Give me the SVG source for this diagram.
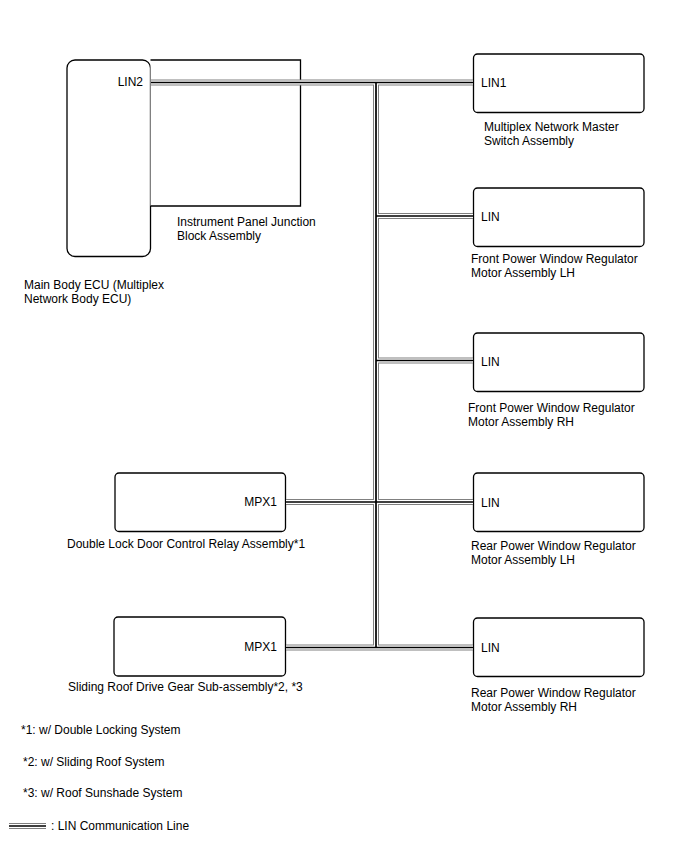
<svg xmlns="http://www.w3.org/2000/svg" width="688" height="852" viewBox="0 0 688 852">
<style>
.box{fill:#fff;stroke:#000;stroke-width:1.3}
.t{font-family:"Liberation Sans",Arial,sans-serif;font-size:12px;fill:#000}
.g{fill:none;stroke:#808080;stroke-width:6}
.w{fill:none;stroke:#fff;stroke-width:4}
.k{fill:none;stroke:#000;stroke-width:1.7}
</style>
<rect width="688" height="852" fill="#fff"/>
<g id="main-body-ecu">
<rect class="box" x="67" y="60" width="83.5" height="196.5" rx="8"/>
<text class="t" x="143" y="86" text-anchor="end">LIN2</text>
<text class="t" x="24" y="289">Main Body ECU (Multiplex</text>
<text class="t" x="24" y="303">Network Body ECU)</text>
</g>
<g id="instrument-panel-jb">
<path class="box" d="M150.5 60 H300.5 V206 H150.5" fill="none"/>
<text class="t" x="177" y="226">Instrument Panel Junction</text>
<text class="t" x="177" y="240">Block Assembly</text>
</g>
<g id="master-switch">
<rect class="box" x="473.5" y="54" width="170.5" height="58.5" rx="4"/>
<text class="t" x="481" y="87">LIN1</text>
<text class="t" x="484" y="131">Multiplex Network Master</text>
<text class="t" x="484" y="145">Switch Assembly</text>
</g>
<g id="front-lh">
<rect class="box" x="473.5" y="188" width="170.5" height="58.5" rx="4"/>
<text class="t" x="481" y="221">LIN</text>
<text class="t" x="471" y="263">Front Power Window Regulator</text>
<text class="t" x="471" y="277">Motor Assembly LH</text>
</g>
<g id="front-rh">
<rect class="box" x="473.5" y="333" width="170.5" height="58.5" rx="4"/>
<text class="t" x="481" y="366">LIN</text>
<text class="t" x="468" y="412">Front Power Window Regulator</text>
<text class="t" x="468" y="426">Motor Assembly RH</text>
</g>
<g id="rear-lh">
<rect class="box" x="473.5" y="473" width="170.5" height="58.5" rx="4"/>
<text class="t" x="481" y="507">LIN</text>
<text class="t" x="471" y="550">Rear Power Window Regulator</text>
<text class="t" x="471" y="564">Motor Assembly LH</text>
</g>
<g id="rear-rh">
<rect class="box" x="473.5" y="618" width="170.5" height="58.5" rx="4"/>
<text class="t" x="481" y="652">LIN</text>
<text class="t" x="471" y="697">Rear Power Window Regulator</text>
<text class="t" x="471" y="711">Motor Assembly RH</text>
</g>
<g id="double-lock-relay">
<rect class="box" x="115" y="473" width="170.5" height="58.5" rx="4"/>
<text class="t" x="277" y="506" text-anchor="end">MPX1</text>
<text class="t" x="67" y="548">Double Lock Door Control Relay Assembly*1</text>
</g>
<g id="sliding-roof">
<rect class="box" x="114" y="617" width="171.5" height="59" rx="4"/>
<text class="t" x="277" y="651" text-anchor="end">MPX1</text>
<text class="t" x="68" y="691">Sliding Roof Drive Gear Sub-assembly*2, *3</text>
</g>
<g id="connectors">
<g class="g">
<path d="M151 82.5 H473"/>
<path d="M376 82.5 V647.5"/>
<path d="M376 216 H473"/>
<path d="M376 360.5 H473"/>
<path d="M286 502 H473"/>
<path d="M286 647.5 H473"/>
</g>
<g class="w">
<path d="M151 82.5 H473"/>
<path d="M376 82.5 V647.5"/>
<path d="M376 216 H473"/>
<path d="M376 360.5 H473"/>
<path d="M286 502 H473"/>
<path d="M286 647.5 H473"/>
</g>
<g class="k">
<path d="M151 82.5 H473"/>
<path d="M376 82.5 V647.5"/>
<path d="M376 216 H473"/>
<path d="M376 360.5 H473"/>
<path d="M286 502 H473"/>
<path d="M286 647.5 H473"/>
</g>
</g>
<g id="legend">
<text class="t" x="21" y="734">*1: w/ Double Locking System</text>
<text class="t" x="23" y="766">*2: w/ Sliding Roof System</text>
<text class="t" x="23" y="797">*3: w/ Roof Sunshade System</text>
<path d="M9 826 H46" class="g"/>
<path d="M9 826 H46" class="w"/>
<path d="M9 826 H46" class="k"/>
<text class="t" x="51" y="830">: LIN Communication Line</text>
</g>
</svg>
